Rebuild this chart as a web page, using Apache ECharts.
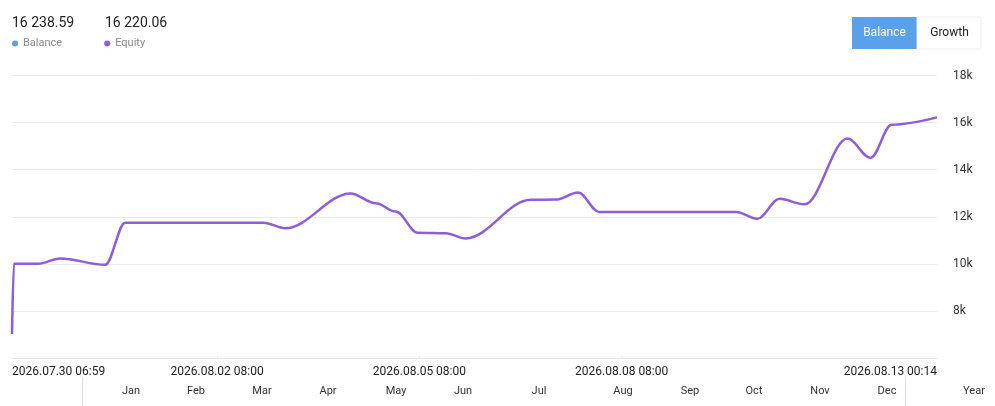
<!DOCTYPE html>
<html>
<head>
<meta charset="utf-8">
<script src="https://cdn.jsdelivr.net/npm/echarts@6/dist/echarts.min.js"></script>
<style>
html,body{margin:0;padding:0;background:#fff;}
#main{width:995px;height:406px;}
</style>
</head>
<body>
<div id="main"></div>
<script>
// equity curve
var times = [
  '2026-07-30 06:59', '2026-07-30 07:40', '2026-07-30 16:15', '2026-07-31 00:05',
  '2026-07-31 16:10', '2026-07-31 23:17', '2026-08-01 12:00', '2026-08-02 12:00',
  '2026-08-03 00:29', '2026-08-03 08:17', '2026-08-04 07:30',
  '2026-08-04 16:29', '2026-08-04 23:35', '2026-08-05 07:23', '2026-08-05 17:23',
  '2026-08-06 00:29', '2026-08-06 23:41', '2026-08-07 08:35',
  '2026-08-07 16:29', '2026-08-08 00:00', '2026-08-08 20:00', '2026-08-09 12:00',
  '2026-08-10 00:47', '2026-08-10 08:17', '2026-08-10 16:11', '2026-08-11 01:05',
  '2026-08-11 16:23', '2026-08-12 00:35', '2026-08-12 08:05',
  '2026-08-13 00:14'
];
var equity = [
  7020, 10000, 10000, 10230,
  9960, 11750, 11750, 11750,
  11750, 11510, 12990,
  12570, 12220, 11320, 11300,
  11080, 12720, 12730,
  13030, 12200, 12200, 12200,
  12200, 11910, 12760, 12530,
  15320, 14500, 15910,
  16220.06
];
var balance = [];

var legendValues = ['16 238.59', '16 220.06'];
var seriesNames = ['Balance', 'Equity'];
var seriesColors = ['#5b9fdc', '#8e5ddb'];

var tickTimes = ['2026-08-02 08:00', '2026-08-05 08:00', '2026-08-08 08:00'];
var yTicks = [8000, 10000, 12000, 14000, 16000, 18000];

var months = ['Jan','Feb','Mar','Apr','May','Jun','Jul','Aug','Sep','Oct','Nov','Dec'];
var monthX = [131, 196, 262, 328, 396, 463, 539, 623, 690, 754, 820, 887];

function ts(s) { return echarts.number.parseDate(s).getTime(); }
function pad(n) { return (n < 10 ? '0' : '') + n; }
function fmt(v) {
  var d = new Date(v);
  return d.getFullYear() + '.' + pad(d.getMonth() + 1) + '.' + pad(d.getDate()) + ' ' + pad(d.getHours()) + ':' + pad(d.getMinutes());
}

var tMin = ts(times[0]);
var tMax = ts(times[times.length - 1]);
var tickVals = tickTimes.map(ts);
var labelVals = [tMin].concat(tickVals).concat([tMax]);

var equityData = times.map(function (t, i) { return [ts(t), equity[i]]; });

var graphics = [];
// legend values above the legend names
graphics.push({ type: 'text', left: 12, top: 16, style: { text: legendValues[0], fill: '#222', font: '14px Roboto' } });
graphics.push({ type: 'text', left: 105, top: 16, style: { text: legendValues[1], fill: '#222', font: '14px Roboto' } });
// buttons
graphics.push({ type: 'rect', shape: { x: 852, y: 17, width: 65, height: 32 }, style: { fill: '#5aa0ea' } });
graphics.push({ type: 'rect', shape: { x: 917, y: 17, width: 64, height: 32 }, style: { fill: '#fff', stroke: '#eeeeee', lineWidth: 1 } });
graphics.push({ type: 'text', x: 884.5, y: 33, style: { text: 'Balance', fill: '#fff', font: '12px Roboto', align: 'center', verticalAlign: 'middle' } });
graphics.push({ type: 'text', x: 949.5, y: 33, style: { text: 'Growth', fill: '#222', font: '12px Roboto', align: 'center', verticalAlign: 'middle' } });
// month strip
graphics.push({ type: 'line', shape: { x1: 82.5, y1: 377, x2: 82.5, y2: 406 }, style: { stroke: '#dddddd', lineWidth: 1 } });
graphics.push({ type: 'line', shape: { x1: 905.5, y1: 377, x2: 905.5, y2: 406 }, style: { stroke: '#dddddd', lineWidth: 1 } });
months.forEach(function (m, i) {
  graphics.push({ type: 'text', x: monthX[i], y: 391, style: { text: m, fill: '#333', font: '11px Roboto', align: 'center', verticalAlign: 'middle' } });
});
graphics.push({ type: 'text', x: 974, y: 391, style: { text: 'Year', fill: '#333', font: '11px Roboto', align: 'center', verticalAlign: 'middle' } });

var myChart = echarts.init(document.getElementById('main'));
var option = {
  animation: false,
  textStyle: { fontFamily: 'Roboto' },
  legend: {
    left: 7,
    top: 33,
    icon: 'circle',
    itemWidth: 6,
    itemHeight: 6,
    itemGap: 42,
    textStyle: { color: '#888', fontSize: 11 },
    data: seriesNames
  },
  grid: { left: 12, right: 58, top: 75.5, bottom: 48 },
  xAxis: {
    type: 'value',
    min: tMin,
    max: tMax,
    axisLine: { show: true, lineStyle: { color: '#e6e6e6' } },
    axisTick: { show: true, inside: true, length: 2, customValues: tickVals, lineStyle: { color: '#e6e6e6' } },
    axisLabel: {
      customValues: labelVals,
      formatter: function (v) { return fmt(v); },
      color: '#222',
      fontSize: 12,
      margin: 8,
      alignMinLabel: 'left',
      alignMaxLabel: 'right'
    },
    splitLine: { show: false }
  },
  yAxis: {
    type: 'value',
    position: 'right',
    min: 6000,
    max: 18000,
    interval: 2000,
    axisLine: { show: false },
    axisTick: { show: false },
    axisLabel: {
      customValues: yTicks,
      formatter: function (v) { return (v / 1000) + 'k'; },
      color: '#333',
      fontSize: 12,
      margin: 16
    },
    splitLine: { lineStyle: { color: '#ececec' } }
  },
  series: [
    {
      name: seriesNames[0],
      type: 'line',
      data: balance,
      showSymbol: false,
      itemStyle: { color: seriesColors[0] },
      lineStyle: { width: 2.5, color: seriesColors[0] }
    },
    {
      name: seriesNames[1],
      type: 'line',
      data: equityData,
      smooth: 0.35,
      smoothMonotone: 'x',
      showSymbol: false,
      itemStyle: { color: seriesColors[1] },
      lineStyle: { width: 2.5, color: seriesColors[1] }
    }
  ],
  graphic: graphics
};
myChart.setOption(option);
</script>
</body>
</html>
